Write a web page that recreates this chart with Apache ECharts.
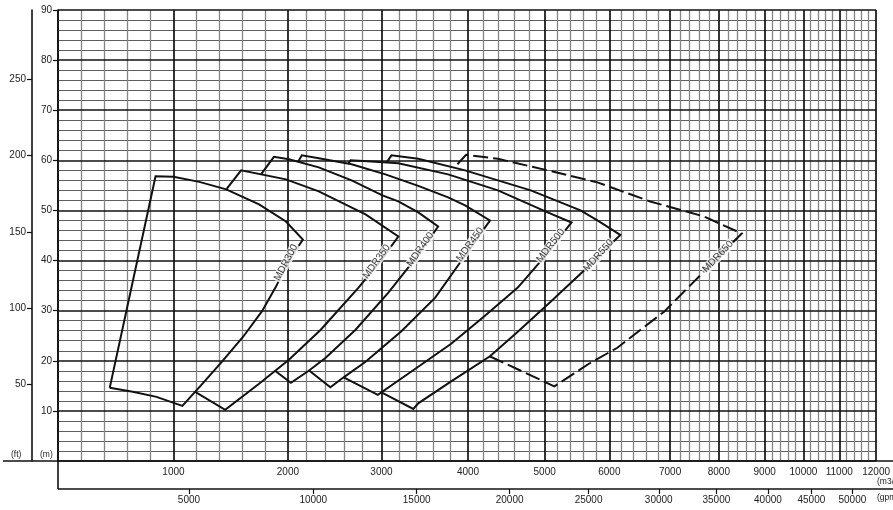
<!DOCTYPE html>
<html>
<head>
<meta charset="utf-8">
<script src="https://cdn.jsdelivr.net/npm/echarts@6/dist/echarts.min.js"></script>
<style>
html,body{margin:0;padding:0;background:#fff;}
#chart{width:893px;height:510px;}
</style>
</head>
<body>
<div id="chart"></div>
<script>
// ================= DATA (flow in m3/h, head in m) =================
const modelNames = ['MDR300', 'MDR350', 'MDR400', 'MDR450', 'MDR500', 'MDR550', 'MDR650'];

// visible outline of each performance envelope, [flow m3/h, head m]
const mdr300 = [[448,14.6],[845,56.8],[1000,56.7],[1226,55.7],[1461,54.2],[1748,51.2],[1983,47.8],[2160,44.2],
  [2011,40],[1896,34.8],[1774,29.9],[1609,24.8],[1426,19.9],[1252,15.4],[1078,11],[853,12.8],[647,13.8],[448,14.6]];
const mdr350 = [[1190,13.8],[1452,10.2],[1748,15.4],[2011,20.2],[2351,26.2],[2755,34.6],[3000,40.2],[3195,44.8],
  [2830,49.2],[2330,53.8],[1983,56.2],[1591,58],[1465,54.3]];
const mdr400 = [[1893,17.9],[2032,15.6],[2223,18],[2404,20.6],[2723,26.2],[3080,33.6],[3391,40.4],[3655,46.8],
  [3425,49.6],[3195,51.8],[3011,53],[2681,56],[2330,58.6],[2011,60.2],[1878,60.7],[1765,57.2]];
const mdr450 = [[2223,18.1],[2454,14.7],[2596,16.7],[2830,19.8],[3230,25.9],[3621,32.6],[3966,41],[4286,48],
  [3966,51],[3770,52.6],[3425,54.9],[3046,57.2],[2681,59.2],[2330,60.4],[2149,61],[2112,59.8]];
const mdr500 = [[2596,16.7],[2961,13.2],[3425,18.8],[3805,23.4],[4221,29],[4649,34.6],[5000,40.8],[5415,47.6],
  [5046,49.6],[4390,54],[3770,57.2],[3195,59.4],[2851,59.8],[2670,60],[2644,59.3]];
const mdr550 = [[3000,13.7],[3368,10.4],[3425,11.5],[3805,15.9],[4286,20.9],[4649,25.8],[5092,31.8],[5708,39.2],[6180,45.1],
  [5815,48],[5554,50],[4818,54],[3966,58],[3425,60.3],[3115,61],[3061,59.6]];
const mdr650 = [[4282,20.9],[5149,14.9],[5708,19.6],[6131,22.6],[6902,29.8],[7694,37.8],[8500,45.4],
  [7694,48.8],[6672,51.8],[5815,55.6],[5046,58],[4390,60.3],[3977,61.1],[3839,58.5]];

// where each model name is written along its envelope
const labelPoints = [[1983,39.6],[2947,39.8],[3448,42.2],[4026,43.2],[5092,43],[5831,41],[7980,40.8]];

// tick labels
const flowTicks = [0,1000,2000,3000,4000,5000,6000,7000,8000,9000,10000,11000,12000];
const gpmTicks = [5000,10000,15000,20000,25000,30000,35000,40000,45000,50000];
const headTicksM = [10,20,30,40,50,60,70,80,90];
const headTicksFt = [50,100,150,200,250];

// ================= SCALE / STYLE CONFIG =================
// the printed flow scale is hand-drawn (not linear, not log): relative span of each 1000 m3/h step
const FLOW_SCALE = [0,116,231,325,412,489,554,615,664,710,749,785,822];
const GPM_PER_M3H = 4.40287;
const FT_PER_M = 3.28084;
const LABEL_ROTATE = [62, 54, 55, 54, 52, 48, 46];
const FONT = 'Liberation Sans, Arial, sans-serif';

function warp(q) {
  let i = Math.floor(q / 1000);
  if (i < 0) i = 0;
  if (i > FLOW_SCALE.length - 2) i = FLOW_SCALE.length - 2;
  return FLOW_SCALE[i] + (q - flowTicks[i]) / 1000 * (FLOW_SCALE[i + 1] - FLOW_SCALE[i]);
}
const key = v => Number(v).toFixed(3);
const flowLabelMap = new Map(flowTicks.slice(1).map(q => [key(warp(q)), String(q)]));
const gpmLabelMap = new Map(gpmTicks.map(g => [key(warp(g / GPM_PER_M3H)), String(g)]));

// ---------- grid lines (drawn through the axes) ----------
const MINOR_H = {color:'#5e5e5e', width:1.2, type:'solid'};
const MINOR_V = {color:'#858585', width:1.3, type:'solid'};
const MAJOR = {color:'#111', width:1.7, type:'solid'};
const gridLines = [];
for (let h = 0; h <= 90; h += 2) if (h % 10) gridLines.push({yAxis: h, lineStyle: MINOR_H});
for (let q = 0; q <= 12000; q += 200) if (q % 1000) gridLines.push({xAxis: warp(q), lineStyle: MINOR_V});
for (let h = 0; h <= 90; h += 10) gridLines.push({yAxis: h, lineStyle: MAJOR});
for (let q = 0; q <= 12000; q += 1000) gridLines.push({xAxis: warp(q), lineStyle: MAJOR});

const curves = [mdr300, mdr350, mdr400, mdr450, mdr500, mdr550, mdr650];

const series = [{
  type: 'line',
  data: [[0, 0]],
  symbol: 'none',
  lineStyle: {opacity: 0},
  silent: true,
  z: 1,
  markLine: {silent: true, symbol: 'none', label: {show: false}, animation: false, data: gridLines}
}];
curves.forEach((pts, i) => {
  series.push({
    type: 'line',
    name: modelNames[i],
    data: pts.map(p => [warp(p[0]), p[1]]),
    symbol: 'none',
    showSymbol: false,
    lineStyle: {color: '#111', width: 2, type: i === 6 ? [15, 5] : 'solid', cap: 'butt', join: 'miter'},
    z: 5,
    silent: true
  });
});
series.push({
  type: 'scatter',
  symbol: 'circle',
  symbolSize: 0,
  itemStyle: {color: 'rgba(0,0,0,0)'},
  z: 8,
  silent: true,
  data: labelPoints.map((p, i) => ({
    value: [warp(p[0]), p[1]],
    name: modelNames[i],
    label: {rotate: LABEL_ROTATE[i]}
  })),
  label: {
    show: true,
    position: 'inside',
    formatter: p => p.name,
    fontSize: 10,
    fontFamily: FONT,
    color: '#000',
    textBorderWidth: 0,
    backgroundColor: '#fff',
    padding: [0, 1]
  },
  labelLayout: {hideOverlap: false}
});

const chart = echarts.init(document.getElementById('chart'), null, {renderer: 'canvas'});
chart.setOption({
  animation: false,
  backgroundColor: '#fff',
  textStyle: {fontFamily: FONT},
  grid: {left: 58, right: 13, top: 10, bottom: 49, containLabel: false},
  xAxis: [{
    type: 'value', min: 0, max: FLOW_SCALE[FLOW_SCALE.length - 1], position: 'bottom',
    axisLine: {show: false, onZero: false}, axisTick: {show: false}, splitLine: {show: false},
    axisLabel: {
      customValues: flowTicks.slice(1).map(warp),
      formatter: v => flowLabelMap.get(key(v)) || '',
      fontSize: 10, color: '#222', margin: 6, fontFamily: FONT
    }
  }, {
    type: 'value', min: 0, max: FLOW_SCALE[FLOW_SCALE.length - 1], position: 'bottom', offset: 28,
    axisLine: {show: false, onZero: false}, splitLine: {show: false},
    axisTick: {show: true, customValues: gpmTicks.map(g => warp(g / GPM_PER_M3H)), length: 5,
      lineStyle: {color: '#111', width: 1.2}},
    axisLabel: {
      customValues: gpmTicks.map(g => warp(g / GPM_PER_M3H)),
      formatter: v => gpmLabelMap.get(key(v)) || '',
      fontSize: 10, color: '#222', margin: 6, fontFamily: FONT
    }
  }],
  yAxis: [{
    type: 'value', min: 0, max: 90, interval: 10, position: 'left',
    axisLine: {show: true, onZero: false, lineStyle: {color: '#111', width: 1.6}},
    axisTick: {show: true, customValues: headTicksM, length: 5, lineStyle: {color: '#111', width: 1.2}},
    axisLabel: {customValues: headTicksM, fontSize: 10, color: '#222', margin: 6, fontFamily: FONT},
    splitLine: {show: false}
  }, {
    type: 'value', min: 0, max: 90 * FT_PER_M, position: 'left', offset: 26,
    axisLine: {show: true, onZero: false, lineStyle: {color: '#111', width: 1.6}},
    axisTick: {show: true, customValues: headTicksFt, length: 5, lineStyle: {color: '#111', width: 1.2}},
    axisLabel: {customValues: headTicksFt, fontSize: 10, color: '#222', margin: 6, fontFamily: FONT},
    splitLine: {show: false}
  }],
  graphic: [
    {type: 'line', shape: {x1: 3, y1: 461, x2: 893, y2: 461}, style: {stroke: '#111', lineWidth: 1.6}, z: 10},
    {type: 'line', shape: {x1: 58, y1: 461, x2: 58, y2: 489}, style: {stroke: '#111', lineWidth: 1.6}, z: 10},
    {type: 'line', shape: {x1: 58, y1: 489, x2: 893, y2: 489}, style: {stroke: '#111', lineWidth: 1.6}, z: 10},
    {type: 'text', left: 11, top: 450, style: {text: '(ft)', fontSize: 8.5, fill: '#222', fontFamily: FONT}, z: 10},
    {type: 'text', left: 40, top: 450, style: {text: '(m)', fontSize: 8.5, fill: '#222', fontFamily: FONT}, z: 10},
    {type: 'text', left: 877, top: 477, style: {text: '(m3/h)', fontSize: 8.5, fill: '#222', fontFamily: FONT}, z: 10},
    {type: 'text', left: 877, top: 493, style: {text: '(gpm)', fontSize: 8.5, fill: '#222', fontFamily: FONT}, z: 10}
  ],
  series: series
});
</script>
</body>
</html>
